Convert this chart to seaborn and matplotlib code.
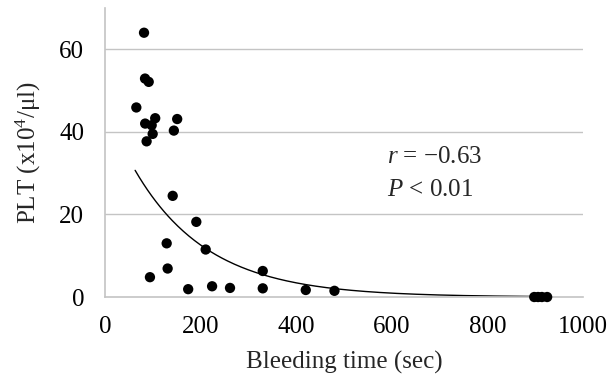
import numpy as np
import pandas as pd
import matplotlib
matplotlib.use("Agg")
import matplotlib.pyplot as plt
import seaborn as sns

# Data
bleeding_time = [81.6, 83.7, 91.4, 65.5, 151, 105, 84, 97.6, 144, 99.7, 87,
                 141.6, 191, 129, 210.6, 131, 94, 330, 174, 224, 261.5, 330, 420, 480,
                 898, 906, 914, 925]
plt_count = [64.0, 52.9, 52.1, 45.9, 43.1, 43.3, 42.0, 41.6, 40.3, 39.5, 37.7,
             24.5, 18.2, 13.0, 11.5, 6.9, 4.8, 6.3, 1.9, 2.6, 2.2, 2.1, 1.7, 1.5,
             0.0, 0.0, 0.0, 0.0]
# exponential fit y = a * exp(-b x) as drawn
fit_a = 46.2
fit_b = 0.0065
fit_range = (63, 925)
x_ticks = [0, 200, 400, 600, 800, 1000]
y_ticks = [0, 20, 40, 60]
r_text = "$r$ = \u22120.63"
p_text = "$P$ < 0.01"

sns.set_theme(style="white")
plt.rcParams['font.family'] = ['Liberation Serif', 'DejaVu Serif']
plt.rcParams['mathtext.fontset'] = 'custom'
plt.rcParams['mathtext.rm'] = 'Liberation Serif'
plt.rcParams['mathtext.it'] = 'Liberation Serif:italic'

df = pd.DataFrame({"bt": bleeding_time, "plt": plt_count})

fig = plt.figure(figsize=(6.12, 3.88), dpi=100)
ax = fig.add_axes([0.1716, 0.2345, 0.781, 0.745])

grid_c = '#c4c4c4'
for yv in y_ticks[1:]:
    ax.axhline(yv, color=grid_c, lw=1.0, zorder=0)

xs = np.linspace(fit_range[0], fit_range[1], 300)
fit_df = pd.DataFrame({"x": xs, "y": fit_a * np.exp(-fit_b * xs)})
sns.lineplot(data=fit_df, x="x", y="y", ax=ax, color='black', lw=1.0, zorder=2)

sns.scatterplot(data=df, x="bt", y="plt", ax=ax, color='black', s=55,
                edgecolor='none', zorder=3, clip_on=False)

ax.set_xlim(0, 1000)
ax.set_ylim(0, 70)
ax.set_xticks(x_ticks)
ax.set_yticks(y_ticks)
ax.tick_params(axis='x', length=0, pad=14, labelsize=18, colors='black')
ax.tick_params(axis='y', length=6, width=1, color=grid_c, pad=9, labelsize=18, labelcolor='black')
for s in ['top', 'right']:
    ax.spines[s].set_visible(False)
for s in ['left', 'bottom']:
    ax.spines[s].set_color(grid_c)
    ax.spines[s].set_linewidth(1.2)

ax.set_xlabel("Bleeding time (sec)", fontsize=18, labelpad=9)
ax.set_ylabel("PLT (x10$^{4}$/\u03bcl)", fontsize=18, labelpad=12)

ax.text(590, 34.0, r_text, fontsize=18, ha='left', va='center')
ax.text(590, 26.0, p_text, fontsize=18, ha='left', va='center')

fig.savefig("out.png", dpi=100)
